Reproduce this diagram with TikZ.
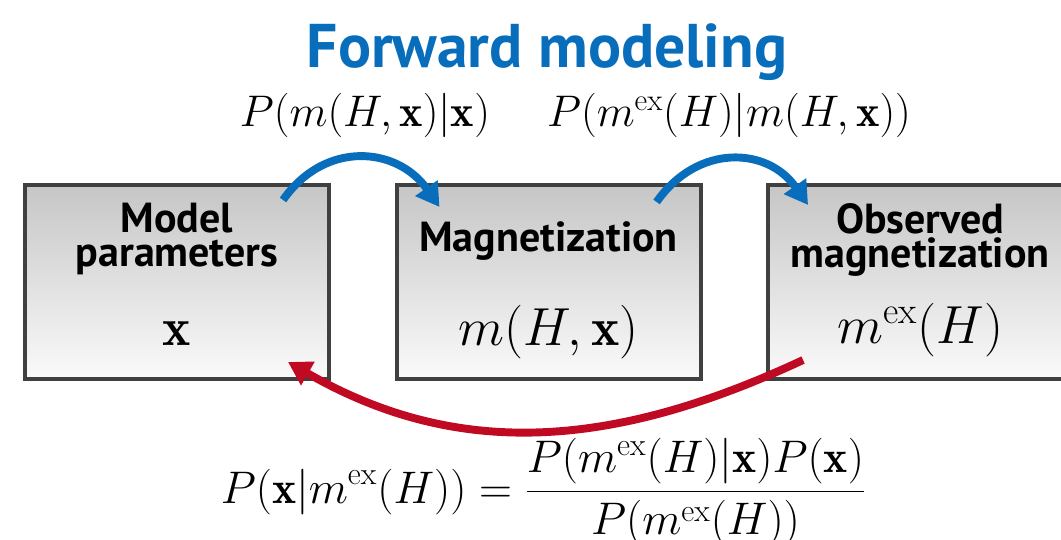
\RequirePackage{fix-cm}
\documentclass[tikz,border=0pt]{standalone}
\usepackage{amsmath}
\usepackage{fontspec}
\newfontfamily\headfont{PT Sans}
\usepackage{tikz}
\usetikzlibrary{
  arrows.meta,
  positioning
}
\definecolor{FwdBlue}{RGB}{8,110,188}
\definecolor{InvRed}{RGB}{192,10,35}
\definecolor{BoxEdge}{RGB}{64,64,64}
\definecolor{BoxTop}{RGB}{198,198,198}
\definecolor{BoxBottom}{RGB}{250,250,250}
\tikzset{
  stagebox/.style={draw=BoxEdge,line width=2.3pt,top color=BoxTop,bottom color=BoxBottom,minimum width=6.08cm,minimum height=3.88cm,inner sep=0pt},
  stagehead/.style={font=\headfont\bfseries\fontsize{23.9}{19.8}\selectfont,align=center,inner sep=0pt,anchor=base},
  stagemath/.style={font=\fontsize{30.5}{34}\selectfont,inner sep=0pt,anchor=base},
  condlabel/.style={font=\fontsize{25.2}{30}\selectfont,inner sep=0pt,anchor=base},
  bayeslabel/.style={font=\fontsize{26}{30}\selectfont,inner sep=0pt,anchor=base},
  titletext/.style={font=\headfont\bfseries\fontsize{35.1}{40}\selectfont,text=FwdBlue,inner sep=0pt,anchor=base},
  fwdarrow/.style={-{Triangle[length=4.6mm,width=5.2mm]},line width=4.5pt,draw=FwdBlue},
  invarrow/.style={-{Triangle[length=4.6mm,width=5.2mm]},line width=4.5pt,draw=InvRed}
}

\begin{document}
\begin{tikzpicture}[node distance=1.27cm]
\clip (0,0) rectangle (21.22,-10.8);
\useasboundingbox (0,0) rectangle (21.22,-10.8);
\node[titletext] (title) at (10.94,-1.36) {Forward modeling};

\node[stagebox] (param) at (3.54,-5.64) {};
\node[stagebox, right=of param] (magn) {};
\node[stagebox, right=of magn] (obs) {};

% anchor=base sits on the last line
\node[stagehead] (paramhead) at ([yshift=-1.68cm]param.north) {Model\\parameters};
\node[stagehead] (magnhead) at ([yshift=-1.38cm]magn.north) {Magnetization};
\node[stagehead] (obshead) at ([yshift=-1.7cm]obs.north) {Observed\\magnetization};
\node[stagemath] (parammath) at ([yshift=0.72cm]param.south) {$\mathbf{x}$};
\node[stagemath] (magnmath) at ([yshift=0.72cm]magn.south) {$m(H,\mathbf{x})$};
\node[stagemath] (obsmath) at ([yshift=0.76cm]obs.south) {$m^{\mathrm{ex}}(H)$};

\node[condlabel] (lab1) at (7.3,-2.54) {$P(m(H,\mathbf{x})|\mathbf{x})$};
\node[condlabel] (lab2) at (14.58,-2.54) {$P(m^{\mathrm{ex}}(H)|m(H,\mathbf{x}))$};
\node[bayeslabel] (bayes) at (10.87,-10.06) {$\displaystyle P(\mathbf{x}|m^{\mathrm{ex}}(H))=\frac{P(m^{\mathrm{ex}}(H)|\mathbf{x})P(\mathbf{x})}{P(m^{\mathrm{ex}}(H))}$};

\draw[fwdarrow] ([shift={(-0.96,-0.34)}]param.north east) to[out=55,in=125,looseness=1.2] ([shift={(0.9,-0.48)}]magn.north west);
\draw[fwdarrow] ([shift={(-0.92,-0.38)}]magn.north east) to[out=55,in=125,looseness=1.2] ([shift={(0.84,-0.44)}]obs.north west);
\draw[invarrow] ([shift={(0.74,0.42)}]obs.south west) to[out=205,in=-30] ([shift={(-0.86,0.38)}]param.south east);
\end{tikzpicture}
\end{document}
